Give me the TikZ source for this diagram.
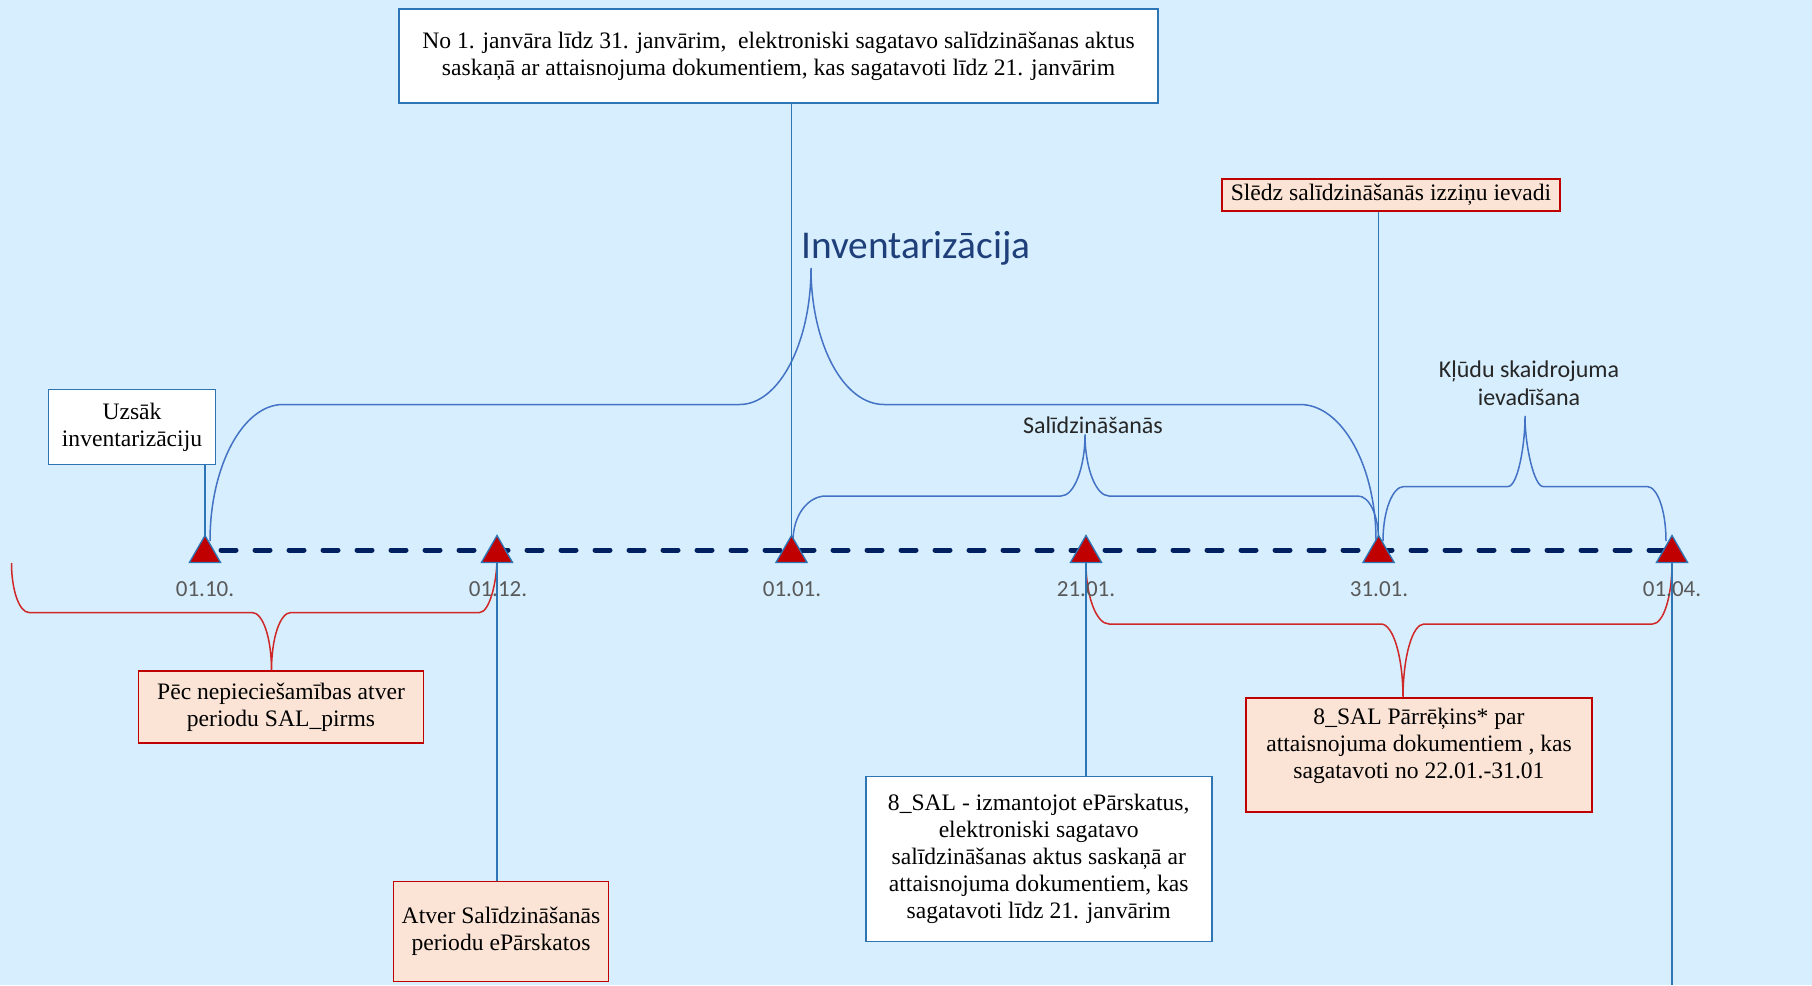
\documentclass[tikz,border=0pt]{standalone}
\usepackage{fontspec}
\setmainfont{Liberation Serif}
\newfontfamily\calib{Carlito}
\usetikzlibrary{shapes.geometric}
\definecolor{bgc}{HTML}{D6EEFD}
\definecolor{boxblue}{HTML}{2E75B6}
\definecolor{bracecol}{HTML}{4472C4}
\definecolor{navy}{HTML}{002060}
\definecolor{darkred}{HTML}{C00000}
\definecolor{redbrace}{HTML}{D02828}
\definecolor{peach}{HTML}{FBE4D6}
\definecolor{titlecol}{HTML}{1F3F7A}
\definecolor{datecol}{HTML}{595959}
\begin{document}
\begin{tikzpicture}[x=1pt,y=-1pt,
  bluebox/.style={draw=boxblue, line width=1.6pt, fill=white, align=center, inner sep=0pt,
    font=\fontsize{23.6}{27}\selectfont},
  redbox/.style={draw=darkred, line width=1.6pt, fill=peach, align=center, inner sep=0pt,
    font=\fontsize{23.6}{27}\selectfont},
  tri/.style={regular polygon, regular polygon sides=3, minimum size=36pt, inner sep=0pt,
    fill=darkred, draw=boxblue, line width=1.3pt},
  datelbl/.style={font=\calib\fontsize{23}{27}\selectfont, text=datecol},
  bracelbl/.style={font=\calib\fontsize{24}{28}\selectfont, text=black!85, align=center},
  vline/.style={draw=boxblue, line width=1.6pt},
  bbrace/.style={draw=bracecol, line width=1.5pt},
  rbrace/.style={draw=redbrace, line width=1.5pt},
  timeline/.style={draw=navy, line width=5pt, line cap=round, dash pattern=on 15pt off 19pt}
]
\useasboundingbox[fill=bgc] (0,0) rectangle (1812,985);

% timeline
\coordinate (tl0) at (221,550);
\coordinate (tl1) at (1672,550);
\draw[timeline] (tl0) -- (tl1);

% braces (blue)
\draw[bbrace] (210,541) .. controls (210,466) and (243,404.5) .. (283,404.5) -- (739.6,404.5)
  .. controls (779,404.5) and (811,343) .. (811,268)
  .. controls (811,343) and (843,404.5) .. (884,404.5) -- (1300,404.5)
  .. controls (1342,404.5) and (1376,466) .. (1376,541);
\draw[bbrace] (793,541) .. controls (793,515.4) and (807.8,496) .. (826,496) -- (1061,496)
  .. controls (1074.2,496) and (1085,467.6) .. (1085,434.5)
  .. controls (1085,467.6) and (1095.8,496) .. (1109,496) -- (1358,496)
  .. controls (1369.4,496) and (1378.6,515.4) .. (1378.6,541);
\draw[bbrace] (1383,541) .. controls (1383,511) and (1392.4,486.5) .. (1404,486.5) -- (1508,486.5)
  .. controls (1517.4,486.5) and (1525,447.1) .. (1525,416)
  .. controls (1525,447.1) and (1534.4,486.5) .. (1543,486.5) -- (1647,486.5)
  .. controls (1657.5,486.5) and (1666,511) .. (1666,541);

% braces (red)
\draw[rbrace] (11.5,563) .. controls (11.5,590) and (19.3,612.5) .. (29,612.5) -- (252,612.5)
  .. controls (262.8,612.5) and (271.5,637.4) .. (271.5,671)
  .. controls (271.5,637.4) and (280.2,612.5) .. (291,612.5) -- (479.6,612.5)
  .. controls (489.2,612.5) and (497,582.6) .. (497,558);
\draw[rbrace] (1086,563) .. controls (1086,596.3) and (1096.3,624) .. (1109,624) -- (1381,624)
  .. controls (1393.1,624) and (1403,656.7) .. (1403,698)
  .. controls (1403,656.7) and (1412.4,624) .. (1424,624) -- (1652.5,624)
  .. controls (1663.3,624) and (1672,597.3) .. (1672,563);

% boxes
\node[bluebox, minimum width=759pt, minimum height=94pt] (top) at (778.5,56)
  {No 1. janvāra līdz 31. janvārim,\ \ elektroniski sagatavo salīdzināšanas aktus\\
   saskaņā ar attaisnojuma dokumentiem, kas sagatavoti līdz 21. janvārim};
\node[bluebox, minimum width=167pt, minimum height=75pt] (uzs) at (132,427)
  {Uzsāk\\inventarizāciju};
\node[redbox, minimum width=338pt, minimum height=32pt] (sledz) at (1391,195)
  {Slēdz salīdzināšanās izziņu ievadi};
\node[redbox, minimum width=285pt, minimum height=72pt] (pec) at (281,707)
  {Pēc nepieciešamības atver\\periodu SAL\_pirms};
\node[redbox, minimum width=215pt, minimum height=100pt, anchor=north] (atver) at (501,880.6)
  {Atver Salīdzināšanās\\periodu ePārskatos};
\node[bluebox, minimum width=346pt, minimum height=165pt] (sal1) at (1038.7,859)
  {8\_SAL - izmantojot ePārskatus,\\elektroniski sagatavo\\salīdzināšanas aktus saskaņā ar\\attaisnojuma dokumentiem, kas\\sagatavoti līdz 21. janvārim};
\node[redbox, minimum width=346pt, minimum height=114pt] (sal2) at (1419,755) {};
\node[font=\fontsize{23.6}{27}\selectfont, align=center, inner sep=0pt] (sal2t) at ([yshift=9.5pt]sal2.center)
  {8\_SAL Pārrēķins* par\\attaisnojuma dokumentiem , kas\\sagatavoti no 22.01.-31.01};

% labels
\node[font=\calib\fontsize{39.4}{42}\selectfont, text=titlecol, anchor=west, inner sep=0pt] (inv) at (801,248) {Inventarizācija};
\node[bracelbl] (sallbl) at (1093,425) {Salīdzināšanās};
\node[bracelbl, inner sep=0pt] (klulbl) at (1529,383) {Kļūdu skaidrojuma\\ievadīšana};

% triangle positions
\coordinate (p1) at (205,553.5);
\coordinate (p2) at (497,553.5);
\coordinate (p3) at (791.5,553.5);
\coordinate (p4) at (1086,553.5);
\coordinate (p5) at (1378.6,553.5);
\coordinate (p6) at (1672,553.5);

% vertical connectors
\draw[vline] (uzs.south -| p1) -- (p1);
\draw[vline] (top.south -| p3) -- (p3);
\draw[vline] (sledz.south -| p5) -- (p5);
\draw[vline] (p2) -- (atver.north -| p2);
\draw[vline] (p4) -- (sal1.north -| p4);
\coordinate (bot6) at (1672,985);
\draw[vline] (p6) -- (bot6);

% triangle nodes
\node[tri] (t1) at (p1) {};
\node[tri] (t2) at (p2) {};
\node[tri] (t3) at (p3) {};
\node[tri] (t4) at (p4) {};
\node[tri] (t5) at (p5) {};
\node[tri] (t6) at (p6) {};

% dates
\node[datelbl] (d1) at (205,589) {01.10.};
\node[datelbl] (d2) at (498,589) {01.12.};
\node[datelbl] (d3) at (792,589) {01.01.};
\node[datelbl] (d4) at (1086,589) {21.01.};
\node[datelbl] (d5) at (1379,589) {31.01.};
\node[datelbl] (d6) at (1672,589) {01.04.};
\end{tikzpicture}
\end{document}
